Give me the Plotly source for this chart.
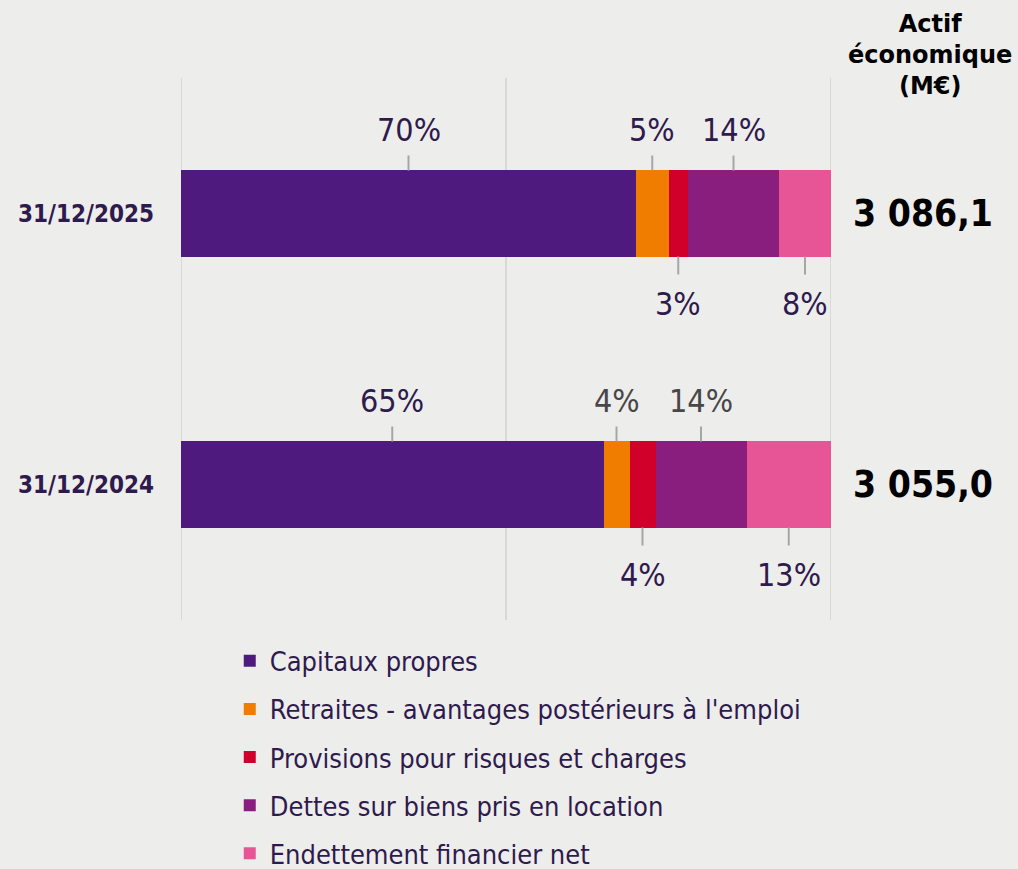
import plotly.graph_objects as go

dates = ["31/12/2025", "31/12/2024"]
series_names = [
    "Capitaux propres",
    "Retraites - avantages postérieurs à l'emploi",
    "Provisions pour risques et charges",
    "Dettes sur biens pris en location",
    "Endettement financier net",
]
values_2025 = [70, 5, 3, 14, 8]
values_2024 = [65, 4, 4, 14, 13]
totals = ["3 086,1", "3 055,0"]
total_header = "Actif<br>économique<br>(M€)"

colors = ["#4f1a7e", "#f07c00", "#d0002b", "#8a1e7e", "#e85597"]
label_side = ["above", "above", "below", "above", "below"]
label_colors = {
    0: ["#2e1a4d"] * 5,
    1: ["#2e1a4d", "#474747", "#2e1a4d", "#474747", "#2e1a4d"],
}

BG = "#ededeb"
TXT = "#2e1a4d"
FONT = "DejaVu Sans Condensed, DejaVu Sans, Verdana, sans-serif"
FONT_WIDE = "DejaVu Sans, Verdana, sans-serif"

rows = [values_2025, values_2024]
ypos = [1, 0]  # 2025 on top
BAR_W = 0.32

fig = go.Figure()
for i, name in enumerate(series_names):
    fig.add_trace(go.Bar(
        orientation="h",
        x=[rows[0][i], rows[1][i]],
        y=ypos,
        name=name,
        legendgroup=name,
        marker=dict(color=colors[i], line=dict(width=0)),
        width=BAR_W,
        hoverinfo="skip",
    ))

shapes = []
annotations = []

# vertical gridlines at 0, 50, 100
for gx in [0, 50, 100]:
    shapes.append(dict(type="line", xref="x", yref="paper", x0=gx, x1=gx, y0=0, y1=1,
                       line=dict(color="#d8d8d6", width=2), layer="below"))

for r, vals in enumerate(rows):
    cum = 0
    yc = ypos[r]
    for i, v in enumerate(vals):
        mid = cum + v / 2
        cum += v
        if label_side[i] == "above":
            y0p, y1p, shift = 43, 58, 84
        else:
            y0p, y1p, shift = -43, -61, -90
        shapes.append(dict(type="line", xref="x", yref="y", ysizemode="pixel", yanchor=yc,
                           x0=mid, x1=mid, y0=y0p, y1=y1p,
                           line=dict(color="#a6a6a6", width=2)))
        annotations.append(dict(x=mid, y=yc, xref="x", yref="y", yshift=shift,
                                text=f"{v}%", showarrow=False,
                                font=dict(family=FONT, size=32, color=label_colors[r][i])))
    annotations.append(dict(x=1.0, y=yc, xref="paper", yref="y", xanchor="left",
                            xshift=20, text=f"<b>{totals[r]}</b>", showarrow=False,
                            font=dict(family=FONT, size=37, color="#000000")))

annotations.append(dict(x=1.0, y=1, xref="paper", yref="paper", xanchor="center",
                        yanchor="bottom", xshift=99, yshift=-24,
                        text=f"<b>{total_header}</b>", showarrow=False,
                        font=dict(family=FONT_WIDE, size=24, color="#000000")))

fig.update_layout(
    width=1018, height=869,
    paper_bgcolor=BG, plot_bgcolor=BG,
    barmode="stack",
    margin=dict(l=181, r=187, t=78, b=249, autoexpand=False),
    font=dict(family=FONT, color=TXT),
    xaxis=dict(range=[0, 100], showgrid=False, zeroline=False, showticklabels=False,
               fixedrange=True),
    yaxis=dict(range=[-0.5, 1.5], tickvals=ypos, ticktext=[f"<b>{d}</b>" for d in dates],
               showgrid=False, zeroline=False, ticks="", ticklabelstandoff=26,
               tickfont=dict(family=FONT, size=24, color=TXT), automargin=False),
    shapes=shapes,
    annotations=annotations,
    showlegend=True,
    legend=dict(orientation="v", x=0.075, xanchor="left", y=-0.031, yanchor="top",
                traceorder="grouped", tracegroupgap=10, bgcolor="rgba(0,0,0,0)",
                font=dict(family=FONT, size=27, color=TXT), itemwidth=30),
)

fig.write_html("out.html", config={"displayModeBar": False},
               post_script="document.body.style.margin='0';document.body.style.background='%s';" % BG)
